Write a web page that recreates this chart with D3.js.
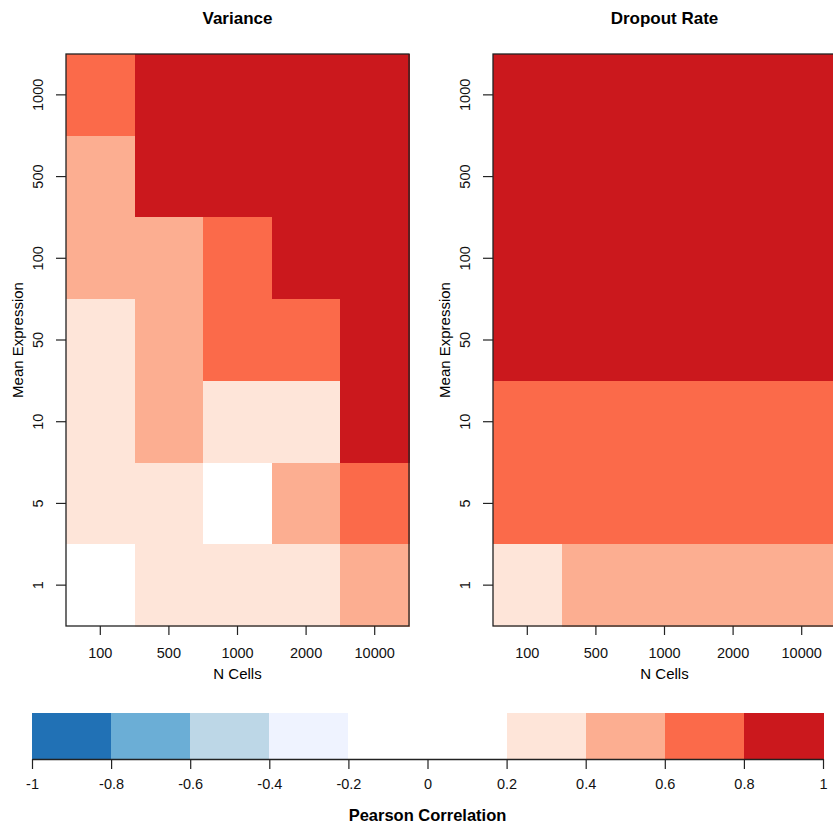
<!DOCTYPE html>
<html>
<head>
<meta charset="utf-8">
<script src="https://d3js.org/d3.v7.min.js"></script>
<style>
  body { margin: 0; background: #fff; }
  svg { display: block; font-family: "Liberation Sans", Arial, sans-serif; }
</style>
</head>
<body>
<div id="chart"></div>
<script>
var nCells = ["100", "500", "1000", "2000", "10000"];
var meanExpr = ["1000", "500", "100", "50", "10", "5", "1"];

// rows follow meanExpr (top to bottom), columns follow nCells
var varianceCor = [
    [0.72, 0.92, 0.93, 0.94, 0.95],
    [0.52, 0.88, 0.90, 0.92, 0.94],
    [0.48, 0.55, 0.70, 0.85, 0.91],
    [0.30, 0.50, 0.68, 0.72, 0.88],
    [0.28, 0.45, 0.32, 0.35, 0.86],
    [0.25, 0.30, 0.15, 0.50, 0.70],
    [0.10, 0.30, 0.32, 0.35, 0.55]
];
var dropoutCor = [
    [0.95, 0.96, 0.96, 0.97, 0.97],
    [0.94, 0.95, 0.96, 0.96, 0.97],
    [0.92, 0.94, 0.95, 0.95, 0.96],
    [0.88, 0.91, 0.92, 0.93, 0.94],
    [0.70, 0.74, 0.76, 0.77, 0.78],
    [0.62, 0.66, 0.68, 0.70, 0.72],
    [0.35, 0.45, 0.50, 0.52, 0.55]
];

var breaks = [-0.8, -0.6, -0.4, -0.2, 0.2, 0.4, 0.6, 0.8];
var binColors = ["#2171b5", "#6baed6", "#bdd7e7", "#eff3ff", "#ffffff",
                 "#fee5d9", "#fcae91", "#fb6a4a", "#cb181d"];
var legendTicks = [-1, -0.8, -0.6, -0.4, -0.2, 0, 0.2, 0.4, 0.6, 0.8, 1];

var W = 833, H = 828;
var svg = d3.select("#chart").append("svg")
    .attr("width", W)
    .attr("height", H);

var color = d3.scaleThreshold().domain(breaks).range(binColors);

var panelW = 343, panelTop = 54, panelBottom = 626;

function drawPanel(left, title, grid) {
    var x = d3.scaleBand().domain(nCells).range([left, left + panelW]);
    var y = d3.scaleBand().domain(meanExpr).range([panelTop, panelBottom]);

    var cells = [];
    meanExpr.forEach(function(m, i) {
        nCells.forEach(function(n, j) {
            cells.push({ m: m, n: n, v: grid[i][j] });
        });
    });

    svg.append("g").attr("shape-rendering", "crispEdges")
        .selectAll("rect").data(cells).enter()
        .append("rect")
        .attr("x", function(d) { return x(d.n); })
        .attr("y", function(d) { return y(d.m); })
        .attr("width", x.bandwidth() + 1)
        .attr("height", y.bandwidth() + 1)
        .attr("fill", function(d) { return color(d.v); });

    svg.append("rect")
        .attr("x", left)
        .attr("y", panelTop)
        .attr("width", panelW)
        .attr("height", panelBottom - panelTop)
        .attr("fill", "none")
        .attr("stroke", "#222")
        .attr("stroke-width", 1.3);

    var xa = svg.append("g")
        .attr("transform", "translate(0," + panelBottom + ")")
        .call(d3.axisBottom(x).tickSize(9).tickSizeOuter(0));
    xa.select(".domain").remove();
    xa.selectAll("line").attr("stroke", "#222").attr("stroke-width", 1.2);
    xa.selectAll("text")
        .attr("y", 22)
        .style("font-size", "14.5px")
        .style("fill", "#111")
        .style("font-family", "Liberation Sans, Arial, sans-serif");

    var ya = svg.append("g")
        .attr("transform", "translate(" + left + ",0)")
        .call(d3.axisLeft(y).tickSize(10).tickSizeOuter(0));
    ya.select(".domain").remove();
    ya.selectAll("line").attr("stroke", "#222").attr("stroke-width", 1.2);
    ya.selectAll("text")
        .attr("x", null)
        .attr("dy", "0.35em")
        .attr("text-anchor", "middle")
        .attr("transform", "translate(-28,0) rotate(-90)")
        .style("font-size", "14.5px")
        .style("fill", "#111")
        .style("font-family", "Liberation Sans, Arial, sans-serif");

    svg.append("text")
        .attr("x", left + panelW / 2)
        .attr("y", 24)
        .attr("text-anchor", "middle")
        .style("font-size", "17px")
        .style("font-weight", "bold")
        .text(title);

    svg.append("text")
        .attr("x", left + panelW / 2)
        .attr("y", 679)
        .attr("text-anchor", "middle")
        .style("font-size", "15px")
        .text("N Cells");

    svg.append("text")
        .attr("transform", "translate(" + (left - 43) + "," + ((panelTop + panelBottom) / 2) + ") rotate(-90)")
        .attr("text-anchor", "middle")
        .style("font-size", "15px")
        .text("Mean Expression");
}

drawPanel(66, "Variance", varianceCor);
drawPanel(493, "Dropout Rate", dropoutCor);

// colour key
var lx = d3.scaleLinear().domain([-1, 1]).range([32, 823]);
var lo = [-1].concat(breaks), hi = breaks.concat([1]);
var bins = binColors.map(function(c, i) { return { a: lo[i], b: hi[i], c: c }; });

svg.append("g").attr("shape-rendering", "crispEdges")
    .selectAll("rect").data(bins).enter()
    .append("rect")
    .attr("x", function(d) { return lx(d.a); })
    .attr("y", 713)
    .attr("width", function(d) { return lx(d.b) - lx(d.a) + 1; })
    .attr("height", 46)
    .attr("fill", function(d) { return d.c; });

var la = svg.append("g")
    .attr("transform", "translate(0,759)")
    .call(d3.axisBottom(lx).tickValues(legendTicks).tickSize(10).tickSizeOuter(0)
        .tickFormat(function(d) { return String(d); }));
la.select(".domain").attr("stroke", "#222").attr("stroke-width", 1.3);
la.selectAll("line").attr("stroke", "#222").attr("stroke-width", 1.2);
la.selectAll("text")
    .attr("y", 20)
    .style("font-size", "14.5px")
    .style("fill", "#111")
    .style("font-family", "Liberation Sans, Arial, sans-serif");

svg.append("text")
    .attr("x", lx(0))
    .attr("y", 821)
    .attr("text-anchor", "middle")
    .style("font-size", "16.5px")
    .style("font-weight", "bold")
    .text("Pearson Correlation");
</script>
</body>
</html>
